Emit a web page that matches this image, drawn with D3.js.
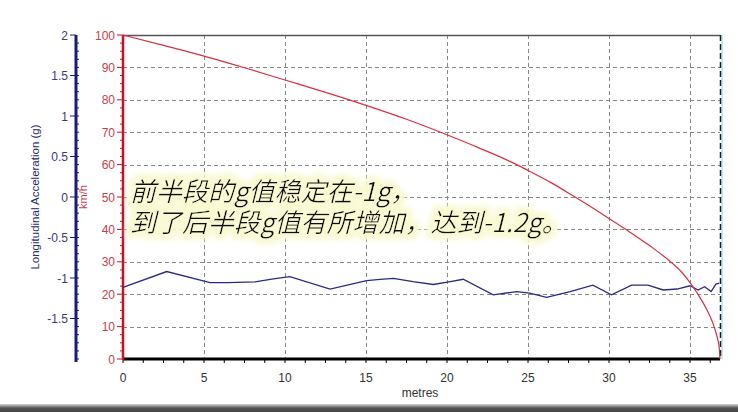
<!DOCTYPE html>
<html><head><meta charset="utf-8">
<script src="https://cdn.jsdelivr.net/npm/d3@7"></script>
<style>
html,body{margin:0;padding:0;background:#fff;}
svg{display:block;}
</style></head>
<body>
<script>
// ---- data ----
const xTicks = [0,5,10,15,20,25,30,35];
const speedTicks = [0,10,20,30,40,50,60,70,80,90,100];
const gTicks = [-1.5,-1,-0.5,0,0.5,1,1.5,2];
// speed (km/h) vs distance (metres)
const speedDist = [0,2.5,5,7.5,10,12.5,15,17.5,19.6,22,24.3,25,26.5,27.8,29,30,31.1,32.5,33.8,34.5,35,35.5,36,36.4,36.65,36.8,36.85];
const speedVal  = [100,96.8,93.5,89.9,86.1,82.3,78.3,74.0,70,65.1,60,58.2,54.2,50.3,46.6,43.4,39.8,35.0,30,26.7,23.6,19.9,15.6,11.2,7.2,3.6,0];
// longitudinal acceleration (g) vs distance
const accDist = [0,2.7,5.37,6.5,8.15,9.28,10.3,12.78,15.04,15.86,16.7,17.9,19.15,20.2,21.0,22.85,24.3,25.1,26.15,27.6,29.0,30.15,31.4,32.4,33.35,34.2,35.0,35.5,35.9,36.3,36.6,36.8];
const accVal  = [-1.116,-0.92,-1.056,-1.056,-1.048,-1.012,-0.984,-1.136,-1.032,-1.016,-1.004,-1.044,-1.08,-1.044,-1.016,-1.208,-1.168,-1.188,-1.24,-1.168,-1.088,-1.208,-1.088,-1.088,-1.148,-1.136,-1.096,-1.148,-1.108,-1.168,-1.076,-1.064];
const noteLines = ["前半段的g值稳定在-1g，","到了后半段g值有所增加，达到-1.2g。"];

const W=738,H=412;
const svg=d3.select("body").append("svg").attr("width",W).attr("height",H);
const defs=svg.append("defs");
const x=d3.scaleLinear().domain([0,36.85]).range([123,720]);
const yS=d3.scaleLinear().domain([0,100]).range([359,35]);
const yG=d3.scaleLinear().domain([-2,2]).range([359,35]);
const FONT="Liberation Sans, Arial, sans-serif";

// bottom gray bar
const grad=defs.append("linearGradient").attr("id","bar").attr("x1",0).attr("y1",0).attr("x2",0).attr("y2",1);
grad.append("stop").attr("offset","0%").attr("stop-color","#d8d8d8");
grad.append("stop").attr("offset","50%").attr("stop-color","#555");
grad.append("stop").attr("offset","100%").attr("stop-color","#444");
svg.append("rect").attr("x",0).attr("y",404).attr("width",W).attr("height",8).attr("fill","url(#bar)");

// grid
const grid=svg.append("g").attr("stroke","#888").attr("stroke-width",1).attr("stroke-dasharray","4,3");
speedTicks.filter(d=>d>0&&d<100).forEach(d=>{
  grid.append("line").attr("x1",123).attr("x2",720).attr("y1",Math.round(yS(d))+0.5).attr("y2",Math.round(yS(d))+0.5);
});
xTicks.filter(d=>d>0).forEach(d=>{
  grid.append("line").attr("x1",Math.round(x(d))+0.5).attr("x2",Math.round(x(d))+0.5).attr("y1",35).attr("y2",359);
});

// top border and right edge
svg.append("line").attr("x1",123).attr("x2",720).attr("y1",35.5).attr("y2",35.5).attr("stroke","#555").attr("stroke-width",1.5);
svg.append("line").attr("x1",722).attr("x2",722).attr("y1",35).attr("y2",359).attr("stroke","#bfeee8").attr("stroke-width",2);
svg.append("line").attr("x1",720.5).attr("x2",720.5).attr("y1",35).attr("y2",359).attr("stroke","#123").attr("stroke-width",1.5).attr("stroke-dasharray","6,3");

// x axis
const xAxis=svg.append("g").attr("transform","translate(0,359)");
xAxis.append("line").attr("x1",123).attr("x2",720).attr("y1",0).attr("y2",0).attr("stroke","#000").attr("stroke-width",3);
d3.range(0,36.86,1.25).forEach(d=>xAxis.append("line").attr("x1",x(d)).attr("x2",x(d)).attr("y1",0).attr("y2",4).attr("stroke","#000").attr("stroke-width",1));
xAxis.selectAll("text").data(xTicks).join("text").attr("x",d=>x(d)).attr("y",23)
  .attr("text-anchor","middle").attr("font-family",FONT).attr("font-size",12).attr("fill","#333").text(d=>d);
svg.append("text").attr("x",420).attr("y",397).attr("text-anchor","middle").attr("font-family",FONT).attr("font-size",12).attr("fill","#333").text("metres");

// red speed axis
const rAx=svg.append("g");
rAx.append("line").attr("x1",123).attr("x2",123).attr("y1",35).attr("y2",360).attr("stroke","#cc1122").attr("stroke-width",2.5);
speedTicks.forEach(d=>{
  rAx.append("line").attr("x1",117).attr("x2",123).attr("y1",yS(d)).attr("y2",yS(d)).attr("stroke","#cc1122").attr("stroke-width",1);
  rAx.append("text").attr("x",115).attr("y",yS(d)+4.5).attr("text-anchor","end").attr("font-family",FONT).attr("font-size",12).attr("fill","#c8404a").text(d);
});
d3.range(0,100,2.5).filter(d=>d%10!==0).forEach(d=>rAx.append("line").attr("x1",120).attr("x2",123).attr("y1",yS(d)).attr("y2",yS(d)).attr("stroke","#cc1122").attr("stroke-width",1));
svg.append("text").attr("transform","translate(87,197) rotate(-90)").attr("text-anchor","middle").attr("font-family",FONT).attr("font-size",11).attr("fill","#c8404a").text("km/h");

// blue g axis
const bAx=svg.append("g");
bAx.append("line").attr("x1",76).attr("x2",76).attr("y1",35).attr("y2",362).attr("stroke","#1a1a7a").attr("stroke-width",3);
gTicks.forEach(d=>{
  bAx.append("line").attr("x1",70).attr("x2",76).attr("y1",yG(d)).attr("y2",yG(d)).attr("stroke","#1a1a7a").attr("stroke-width",1);
  bAx.append("text").attr("x",68).attr("y",yG(d)+4.5).attr("text-anchor","end").attr("font-family",FONT).attr("font-size",12).attr("fill","#3a3a80").text(d);
});
d3.range(-2,2,0.1).forEach(d=>bAx.append("line").attr("x1",76).attr("x2",79).attr("y1",yG(d)).attr("y2",yG(d)).attr("stroke","#1a1a7a").attr("stroke-width",1));
svg.append("text").attr("transform","translate(39,197) rotate(-90)").attr("text-anchor","middle").attr("font-family",FONT).attr("font-size",11.5).attr("fill","#2a2a6e").text("Longitudinal Acceleration (g)");

// lines
const speedData=speedDist.map((d,i)=>[d,speedVal[i]]);
const accData=accDist.map((d,i)=>[d,accVal[i]]);
svg.append("path").datum(accData).attr("fill","none").attr("stroke","#2a2a80").attr("stroke-width",1.3)
  .attr("d",d3.line().x(d=>x(d[0])).y(d=>yG(d[1])));
svg.append("path").datum(speedData).attr("fill","none").attr("stroke","#d83040").attr("stroke-width",1.2)
  .attr("d",d3.line().curve(d3.curveMonotoneX).x(d=>x(d[0])).y(d=>yS(d[1])));

// annotation with glow (one text element, two lines)
const f=defs.append("filter").attr("id","glow").attr("x","-5%").attr("y","-20%").attr("width","110%").attr("height","140%");
f.append("feMorphology").attr("in","SourceAlpha").attr("operator","dilate").attr("radius",4).attr("result","d");
f.append("feGaussianBlur").attr("in","d").attr("stdDeviation",3).attr("result","b");
f.append("feFlood").attr("flood-color","#f9f9d2").attr("result","c");
f.append("feComposite").attr("in","c").attr("in2","b").attr("operator","in").attr("result","g");
const fm=f.append("feMerge");
fm.append("feMergeNode").attr("in","g");
fm.append("feMergeNode").attr("in","g");
fm.append("feMergeNode").attr("in","SourceGraphic");
const note=svg.append("text").attr("font-family","Noto Sans CJK SC, sans-serif").attr("font-size",26).attr("font-weight",350)
  .attr("font-style","italic").attr("fill","#111").attr("filter","url(#glow)");
noteLines.forEach((t,i)=>{
  note.append("tspan").attr("x",130).attr("y",201+i*31).text(t);
});
</script>
</body></html>
